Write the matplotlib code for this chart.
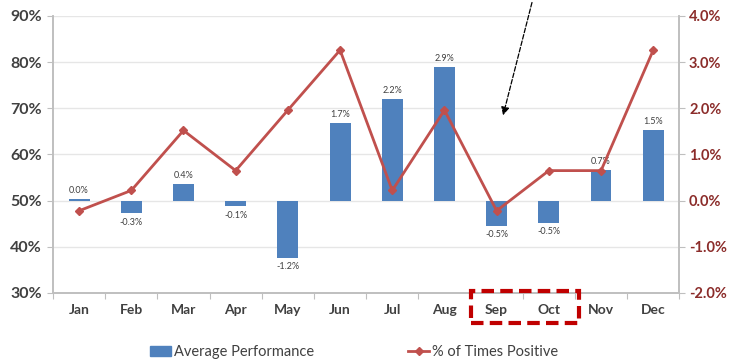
import matplotlib.pyplot as plt
from matplotlib.patches import Rectangle
from matplotlib.lines import Line2D

months = ['Jan', 'Feb', 'Mar', 'Apr', 'May', 'Jun', 'Jul', 'Aug', 'Sep', 'Oct', 'Nov', 'Dec']
avg_perf = [0.04, -0.27, 0.37, -0.12, -1.24, 1.68, 2.2, 2.9, -0.54, -0.48, 0.67, 1.53]
pct_positive = [47.8, 52.2, 65.2, 56.5, 69.6, 82.6, 52.2, 69.6, 47.8, 56.5, 56.5, 82.6]

plt.rcParams['font.family'] = ['Lato', 'DejaVu Sans']

bar_color = '#4F81BD'
line_color = '#C0504D'
text_color = '#404040'
right_color = '#8B2C2A'
spine_color = '#BFBFBF'

fig = plt.figure(figsize=(7.3, 3.63), dpi=100)
ax = fig.add_axes([0.0726, 0.193, 0.858, 0.763])
ax2 = ax.twinx()

x = list(range(len(months)))

# bars against the right-hand scale (drawn on ax, labels moved right)
bars = ax.bar(x, avg_perf, width=0.4, color=bar_color, zorder=2, label='Average Performance')
ax.set_ylim(-2, 4)
ax.set_xlim(-0.5, 11.5)
ax.yaxis.tick_right()
ax.set_yticks([-2, -1, 0, 1, 2, 3, 4])
ax.set_yticklabels([f'{v:.1f}%' for v in [-2, -1, 0, 1, 2, 3, 4]],
                   fontsize=10.5, fontweight='bold', color=right_color)
for i, v in enumerate(avg_perf):
    off = 0.08 if v >= 0 else -0.1
    ax.text(i, v + off, f'{v:.1f}%', ha='center', va='bottom' if v >= 0 else 'top',
            fontsize=6.5, color=text_color)

# line against the left-hand scale
ax2.plot(x, pct_positive, color=line_color, lw=2, marker='D', ms=4.5, zorder=3,
         label='% of Times Positive')
ax2.set_ylim(30, 90)
ax2.yaxis.tick_left()
ax2.set_yticks(range(30, 91, 10))
ax2.set_yticklabels([f'{v}%' for v in range(30, 91, 10)],
                    fontsize=11.5, fontweight='bold', color=text_color)

for v in range(40, 91, 10):
    ax.axhline((v - 50) / 10, color='#E6E6E6', lw=1, zorder=0)

ax.set_xticks([i + 0.5 for i in range(-1, 12)], minor=False)
ax.set_xticklabels([])
ax.set_xticks(x, minor=True)
ax.set_xticklabels(months, minor=True, fontsize=10, fontweight='bold', color=text_color)
ax.tick_params(axis='x', which='major', length=4, color=spine_color)
ax.tick_params(axis='x', which='minor', length=0, pad=8)
ax.tick_params(axis='y', length=4, color=spine_color, pad=3)
ax2.tick_params(axis='y', length=4, color=spine_color, pad=4)

for a in (ax, ax2):
    a.spines['top'].set_visible(False)
    for s in ('left', 'right', 'bottom'):
        a.spines[s].set_color(spine_color)
        a.spines[s].set_linewidth(1.2)

# highlight box around Sep/Oct and the pointer arrow
box = Rectangle((7.5, 23.5), 2.07, 7.0, fill=False, ec='#C00000', lw=3,
                ls=(0, (3, 1.5)), clip_on=False, transform=ax2.transData, zorder=5)
ax2.add_patch(box)
ax2.annotate('', xy=(8.11, 67.9), xytext=(8.69, 93.5),
             arrowprops=dict(arrowstyle='-|>', color='black', lw=0.9, ls='--',
                             mutation_scale=12), annotation_clip=False)

handles = [Rectangle((0, 0), 1, 1, color=bar_color),
           Line2D([], [], color=line_color, lw=2, marker='D', ms=4.5)]
fig.legend(handles, ['Average Performance', '% of Times Positive'], loc='center',
           bbox_to_anchor=(0.485, 0.03), ncol=2, frameon=False, fontsize=10.5,
           handlelength=1.4, handletextpad=0.2, columnspacing=6.5,
           labelcolor=text_color)

fig.savefig('out.png', dpi=100)
